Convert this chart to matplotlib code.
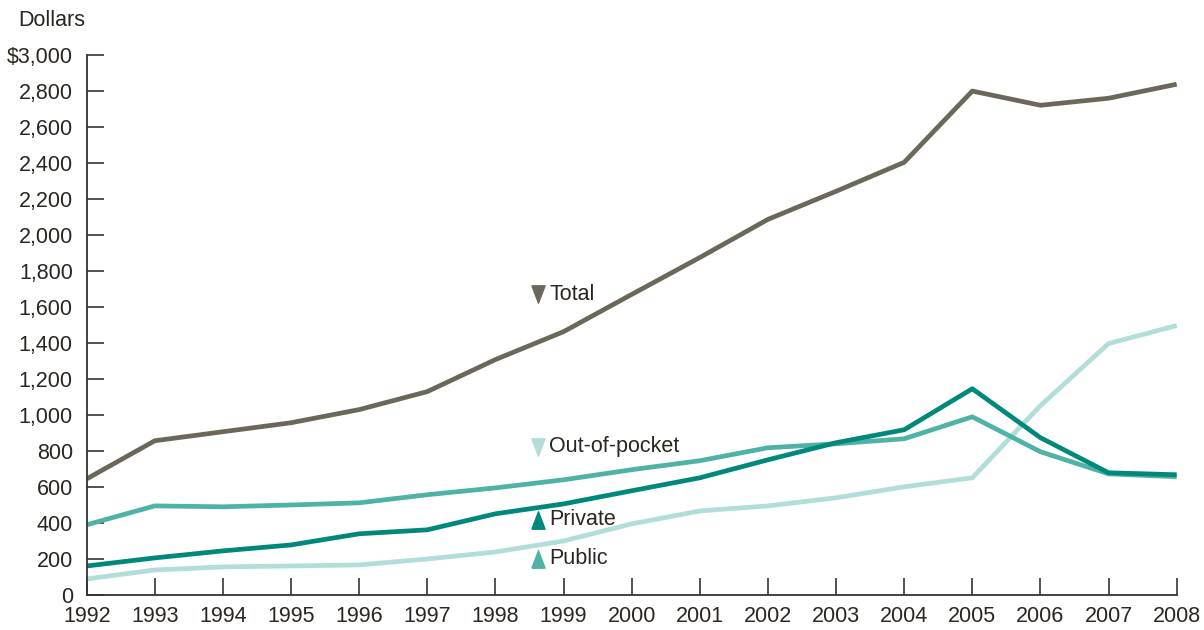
import matplotlib
matplotlib.use('Agg')
import matplotlib.pyplot as plt

plt.rcParams['font.family'] = ['Liberation Sans', 'DejaVu Sans']

years = list(range(1992, 2009))
total = [645, 857, 907, 957, 1030, 1130, 1308, 1463, 1670, 1875, 2087, 2243, 2404, 2800, 2721, 2760, 2838]
out_of_pocket = [390, 495, 490, 500, 512, 557, 595, 640, 696, 746, 818, 840, 868, 990, 796, 673, 657]
private = [161, 206, 245, 278, 340, 362, 451, 506, 579, 651, 751, 846, 918, 1146, 874, 679, 668]
public = [89, 139, 156, 161, 167, 200, 239, 300, 395, 467, 495, 540, 601, 651, 1052, 1397, 1497]

c_total = '#6b675b'
c_dark = '#00897b'
c_mid = '#4fb2a6'
c_pale = '#b2ddd8'
txt = '#2b2620'
fs = 15.5

fig = plt.figure(figsize=(12.04, 6.3), dpi=100)
ax = fig.add_axes([0.072, 0.0556, 0.9053, 0.857])

ax.plot(years, public, color=c_pale, lw=3.4, solid_capstyle='butt')
ax.plot(years, out_of_pocket, color=c_mid, lw=3.4, solid_capstyle='butt')
ax.plot(years, private, color=c_dark, lw=3.4, solid_capstyle='butt')
ax.plot(years, total, color=c_total, lw=3.4, solid_capstyle='butt')

# in-chart labels with tall triangle markers
down = [(-0.38, 0.5), (0.38, 0.5), (0, -0.5), (-0.38, 0.5)]
up = [(-0.38, -0.5), (0.38, -0.5), (0, 0.5), (-0.38, -0.5)]
labels = [('Total', 1670, down, c_total), ('Out-of-pocket', 824, down, c_pale),
          ('Private', 417, up, c_dark), ('Public', 200, up, c_mid)]
for name, yv, m, c in labels:
    ax.plot([1998.63], [yv], marker=m, color=c, markersize=12.5, ls='none')
    ax.text(1998.79, yv, name, fontsize=fs, color=txt, va='center', ha='left')

ax.set_xlim(1992, 2008)
ax.set_ylim(0, 3000)
ax.set_xticks(years)
ax.set_yticks(range(0, 3001, 200))
ylabels = ['{:,}'.format(v) for v in range(0, 3001, 200)]
ylabels[-1] = '$3,000'
ax.set_yticklabels(ylabels)
ax.tick_params(axis='both', direction='in', length=12, width=1.2, color='#333333',
               labelsize=fs, labelcolor=txt)
ax.tick_params(axis='x', pad=8)
ax.tick_params(axis='y', pad=10)
for s in ['top', 'right']:
    ax.spines[s].set_visible(False)
for s in ['left', 'bottom']:
    ax.spines[s].set_color('#333333')
    ax.spines[s].set_linewidth(1.3)

fig.text(0.015, 0.967, 'Dollars', fontsize=fs, color=txt, ha='left', va='center')

fig.savefig('out.png', dpi=100)
